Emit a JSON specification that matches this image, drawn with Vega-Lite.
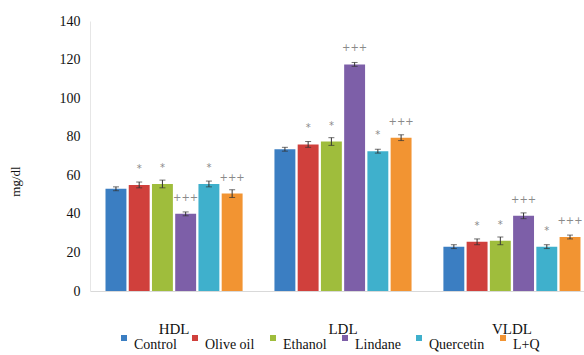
{
  "$schema": "https://vega.github.io/schema/vega-lite/v6.json",
  "width": 506,
  "height": 270,
  "autosize": {"type": "none"},
  "padding": {"left": 90, "top": 21, "right": 0, "bottom": 64},
  "background": "white",
  "config": {
    "view": {"stroke": null},
    "font": "Liberation Serif"
  },
  "data": {
    "values": [
      {"lipid": "HDL", "group": "Control", "value": 53, "err": 1, "sig": ""},
      {"lipid": "HDL", "group": "Olive oil", "value": 55, "err": 1.5, "sig": "*"},
      {"lipid": "HDL", "group": "Ethanol", "value": 55.5, "err": 2, "sig": "*"},
      {"lipid": "HDL", "group": "Lindane", "value": 40, "err": 1, "sig": "+++"},
      {"lipid": "HDL", "group": "Quercetin", "value": 55.5, "err": 1.5, "sig": "*"},
      {"lipid": "HDL", "group": "L+Q", "value": 50.5, "err": 2, "sig": "+++"},
      {"lipid": "LDL", "group": "Control", "value": 73.5, "err": 1, "sig": ""},
      {"lipid": "LDL", "group": "Olive oil", "value": 76, "err": 1.5, "sig": "*"},
      {"lipid": "LDL", "group": "Ethanol", "value": 77.5, "err": 2, "sig": "*"},
      {"lipid": "LDL", "group": "Lindane", "value": 117.5, "err": 1, "sig": "+++"},
      {"lipid": "LDL", "group": "Quercetin", "value": 72.5, "err": 1, "sig": "*"},
      {"lipid": "LDL", "group": "L+Q", "value": 79.5, "err": 1.5, "sig": "+++"},
      {"lipid": "VLDL", "group": "Control", "value": 23, "err": 1, "sig": ""},
      {"lipid": "VLDL", "group": "Olive oil", "value": 25.5, "err": 1.5, "sig": "*"},
      {"lipid": "VLDL", "group": "Ethanol", "value": 26, "err": 2, "sig": "*"},
      {"lipid": "VLDL", "group": "Lindane", "value": 39, "err": 1.5, "sig": "+++"},
      {"lipid": "VLDL", "group": "Quercetin", "value": 23, "err": 1, "sig": "*"},
      {"lipid": "VLDL", "group": "L+Q", "value": 28, "err": 1, "sig": "+++"}
    ]
  },
  "encoding": {
    "x": {
      "field": "lipid",
      "type": "nominal",
      "sort": ["HDL", "LDL", "VLDL"],
      "scale": {"paddingInner": 0.183, "paddingOuter": 0.089},
      "axis": {
        "title": null,
        "labelAngle": 0,
        "labelFont": "Liberation Serif",
        "labelFontSize": 15,
        "labelColor": "#111",
        "labelPadding": 30,
        "ticks": false,
        "domainColor": "#d9d9d9",
        "domainWidth": 1
      }
    },
    "xOffset": {
      "field": "group",
      "type": "nominal",
      "sort": ["Control", "Olive oil", "Ethanol", "Lindane", "Quercetin", "L+Q"],
      "scale": {"paddingInner": 0.1, "paddingOuter": 0.02}
    },
    "y": {
      "field": "value",
      "type": "quantitative",
      "title": "mg/dl",
      "scale": {"domain": [0, 140], "nice": false},
      "axis": {
        "titleFont": "Liberation Serif",
        "titleFontSize": 13,
        "titleFontWeight": "normal",
        "titleColor": "#111",
        "titleX": -68,
        "titleY": 160,
        "tickCount": 7,
        "labelOverlap": false,
        "labelFlush": false,
        "labelFont": "Liberation Serif",
        "labelFontSize": 14,
        "labelColor": "#111",
        "labelPadding": 10,
        "ticks": false,
        "grid": false,
        "domainColor": "#e6e6e6"
      }
    }
  },
  "layer": [
    {
      "mark": {"type": "bar"},
      "encoding": {
        "color": {
          "field": "group",
          "type": "nominal",
          "sort": ["Control", "Olive oil", "Ethanol", "Lindane", "Quercetin", "L+Q"],
          "scale": {
            "domain": ["Control", "Olive oil", "Ethanol", "Lindane", "Quercetin", "L+Q"],
            "range": ["#3b7ec2", "#d0403c", "#9fbd3c", "#7d5fa8", "#3fb0cc", "#f29432"]
          },
          "legend": {
            "title": null,
            "orient": "none",
            "direction": "horizontal",
            "legendX": 27,
            "legendY": 310,
            "padding": 0,
            "symbolType": "square",
            "symbolSize": 36,
            "symbolStrokeWidth": 0,
            "labelFont": "Liberation Serif",
            "labelFontSize": 14,
            "labelColor": "#111",
            "labelBaseline": "top",
            "labelOffset": 3,
            "columnPadding": 11
          }
        }
      }
    },
    {
      "mark": {"type": "errorbar", "color": "#333", "ticks": {"size": 6}},
      "encoding": {
        "yError": {"field": "err"}
      }
    },
    {
      "mark": {"type": "text", "color": "#8a8a8a", "fontSize": 10, "baseline": "middle", "dy": -16, "font": "DejaVu Sans"},
      "encoding": {
        "text": {"field": "sig"}
      }
    }
  ]
}
